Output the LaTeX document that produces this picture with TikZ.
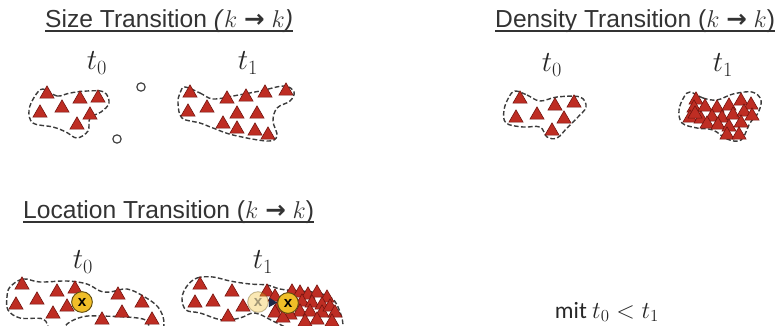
\documentclass[tikz,border=0pt]{standalone}
\usepackage{fontspec}
\setmainfont{Liberation Sans}
\newfontfamily\arrowfont{DejaVu Sans}
\newfontfamily\notefont{Carlito}
\usetikzlibrary{shapes.geometric,arrows.meta}
\definecolor{trired}{RGB}{190,45,35}
\definecolor{triedge}{RGB}{115,20,15}
\definecolor{blobline}{RGB}{60,60,60}
\definecolor{markgold}{RGB}{240,190,40}
\definecolor{navyhead}{RGB}{30,40,70}
\newcommand{\kk}{$k$~{\arrowfont\bfseries →}~$k$}
\tikzset{
  title/.style={anchor=base west, inner sep=0pt, text=black!80, font=\fontsize{21}{25}\selectfont},
  tlabel/.style={text=black!85, font=\fontsize{25}{30}\selectfont},
  tri/.style={regular polygon, regular polygon sides=3, minimum size=0.49cm, inner sep=0pt,
    fill=trired, draw=triedge, line width=0.5pt},
  blob/.style={draw=blobline, line width=1.2pt, dash pattern=on 4pt off 2pt},
  gapdot/.style={circle, draw=black!75, line width=1pt, minimum size=0.25cm, inner sep=0pt},
  xmark/.style={circle, fill=markgold, draw=black!60!markgold, line width=0.8pt, minimum size=0.62cm,
    inner sep=0pt, font=\bfseries\fontsize{13}{14}\selectfont},
  ghost/.style={xmark, opacity=0.35}
}
\begin{document}
\begin{tikzpicture}[x=0.03cm, y=-0.03cm]
  \useasboundingbox (0,0) rectangle (783,325);
  \clip (0,0) rectangle (783,325);
  % titles
  \node[title] (sizeT) at (45,27) {Size Transition \textit{(}\kk\textit{)}};
  \node[title] (densT) at (495,27) {Density Transition (\kk)};
  \node[title] (locT) at (23,218) {Location Transition (\kk)};
  \foreach \t in {sizeT,densT,locT}
    \draw[line width=1.2pt, black!80] ([yshift=-3.5pt]\t.base west) -- ([yshift=-3.5pt]\t.base east);
  \node[tlabel] (size0) at (97,63) {$t_0$};
  \node[tlabel] (size1) at (248,63) {$t_1$};
  \node[tlabel] (dens0) at (552,65) {$t_0$};
  \node[tlabel] (dens1) at (723,65) {$t_1$};
  \node[tlabel] (loc0) at (83,262) {$t_0$};
  \node[tlabel] (loc1) at (263,262) {$t_1$};
  \node[text=black!85, font=\fontsize{20}{24}\selectfont] (note) at (607,312) {\notefont mit $t_0 < t_1$};
  % size transition
  \draw[blob] plot[smooth cycle, tension=0.6] coordinates {(43,89) (57,96) (70,93) (87,91) (104,92)
    (109,103) (101,112) (90,118) (88,131) (77,138) (66,132) (53,127) (33,123) (29,110) (35,96)};
  \foreach \p [count=\i] in {(47,94),(80,99),(98,98),(40,113),(62,108),(90,115),(77,125)}
    \node[tri] (s0-\i) at \p {};
  \node[gapdot] (gapA) at (141,87) {};
  \node[gapdot] (gapB) at (117,139) {};
  \draw[blob] plot[smooth cycle, tension=0.6] coordinates {(185,87) (200,93) (213,99) (233,96) (260,91)
    (284,86) (294,92) (290,101) (277,108) (273,121) (277,136) (267,141) (233,135) (213,128) (200,123)
    (182,118) (178,103) (180,93)};
  \foreach \p [count=\i] in {(190,93),(227,99),(246,97),(265,93),(286,91),(188,112),(207,108),
      (237,114),(257,114),(223,124),(237,129),(255,131),(268,135)}
    \node[tri] (s1-\i) at \p {};
  % density transition
  \draw[blob] plot[smooth cycle, tension=0.6] coordinates {(515,91) (527,95) (540,101) (557,97) (580,97)
    (586,107) (577,118) (567,128) (557,138) (547,137) (540,127) (523,127) (506,123) (504,110) (509,97)};
  \foreach \p [count=\i] in {(520,99),(537,115),(555,106),(574,103),(516,118),(564,119),(552,131)}
    \node[tri] (d0-\i) at \p {};
  \draw[blob] plot[smooth cycle, tension=0.6] coordinates {(690,92) (703,98) (717,100) (733,94) (752,92)
    (761,100) (758,113) (750,123) (741,140) (727,139) (713,130) (697,128) (682,123) (679,110) (684,97)};
  \foreach \p [count=\i] in {(696,100),(694,108),(705,107),(717,108),(729,106),(741,101),(751,105),
      (690,118),(701,119),(712,117),(722,118),(733,115),(744,112),(752,116),(707,124),(718,125),
      (729,127),(741,123),(727,135),(739,135),(695,114)}
    \node[tri] (d1-\i) at \p {};
  % location transition
  \draw[blob] plot[smooth cycle, tension=0.6] coordinates {(10,287) (23,279) (40,282) (67,281) (87,284)
    (100,291) (110,292) (127,289) (143,296) (158,307) (164,322) (160,335) (150,330) (143,319) (100,316)
    (82,317) (67,324) (60,335) (50,330) (43,319) (20,318) (8,310) (7,297)};
  \foreach \p [count=\i] in {(22,285),(57,292),(75,289),(16,305),(37,300),(53,314),(67,307),
      (102,320),(118,295),(122,313),(142,303),(152,320)}
    \node[tri] (l0-\i) at \p {};
  \node[xmark] (xold) at (82,302) {x};
  \draw[blob] plot[smooth cycle, tension=0.6] coordinates {(187,286) (197,278) (213,277) (230,281)
    (250,284) (267,285) (280,289) (297,291) (313,292) (330,297) (338,307) (343,325) (338,338) (300,333)
    (275,322) (255,313) (240,318) (222,320) (200,313) (186,310) (182,298)};
  \foreach \p [count=\i] in {(200,285),(195,303),(213,302),(232,292),(243,307),(228,317),
      (267,292),(275,297),(278,308),(275,313),(292,292),(300,293),(308,295),(317,293),(327,298),
      (302,302),(312,303),(322,305),(300,312),(310,312),(322,313),(330,307),(335,313),(290,315),
      (283,318),(332,322),(305,322),(317,320)}
    \node[tri] (l1-\i) at \p {};
  \node[ghost] (xghost) at (258,302) {x};
  \node[xmark] (xnew) at (288,303) {x};
  \draw[-{Triangle[length=7pt, width=8pt]}, navyhead, line width=1.2pt] (xghost) -- (xnew);
\end{tikzpicture}
\end{document}
